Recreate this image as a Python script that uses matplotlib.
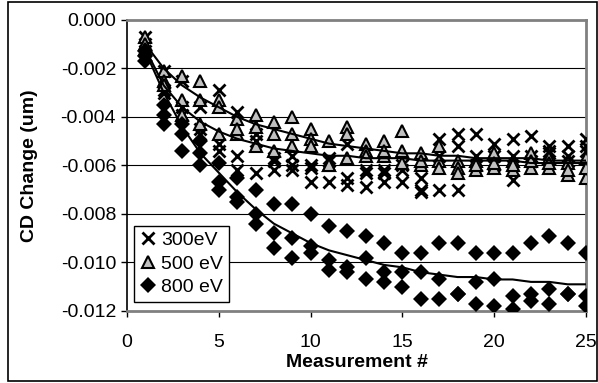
import matplotlib.pyplot as plt
from matplotlib.patches import Rectangle

plt.rcParams['font.family'] = ['Liberation Sans', 'DejaVu Sans']

meas = list(range(1, 26))

# 300 eV, three runs
ev300_a = [-0.0007, -0.0021, -0.0025, -0.0036, -0.0029, -0.0038, -0.0047, -0.0057, -0.0056, -0.0060,
           -0.0057, -0.0051, -0.0062, -0.0062, -0.0062, -0.0065, -0.0049, -0.0047, -0.0047, -0.0051,
           -0.0049, -0.0048, -0.0052, -0.0052, -0.0049]
ev300_b = [-0.0010, -0.0029, -0.0036, -0.0045, -0.0051, -0.0062, -0.0063, -0.0062, -0.0062, -0.0067,
           -0.0067, -0.0065, -0.0069, -0.0067, -0.0067, -0.0070, -0.0056, -0.0052, -0.0056, -0.0056,
           -0.0056, -0.0056, -0.0055, -0.0056, -0.0052]
ev300_c = [-0.0013, -0.0030, -0.0039, -0.0047, -0.0054, -0.0056, -0.0050, -0.0058, -0.0060, -0.0061,
           -0.0058, -0.0068, -0.0063, -0.0063, -0.0060, -0.0071, -0.0070, -0.0070, -0.0060, -0.0060,
           -0.0066, -0.0058, -0.0054, -0.0058, -0.0054]

# 500 eV, three runs
ev500_a = [-0.0007, -0.0021, -0.0023, -0.0025, -0.0033, -0.0041, -0.0039, -0.0042, -0.0040, -0.0045,
           -0.0050, -0.0044, -0.0051, -0.0050, -0.0046, -0.0055, -0.0052, -0.0058, -0.0058, -0.0055,
           -0.0058, -0.0055, -0.0057, -0.0059, -0.0057]
ev500_b = [-0.0010, -0.0025, -0.0033, -0.0033, -0.0036, -0.0047, -0.0044, -0.0047, -0.0047, -0.0049,
           -0.0060, -0.0047, -0.0054, -0.0056, -0.0054, -0.0060, -0.0058, -0.0061, -0.0062, -0.0061,
           -0.0062, -0.0061, -0.0061, -0.0064, -0.0065]
ev500_c = [-0.0012, -0.0027, -0.0039, -0.0043, -0.0047, -0.0045, -0.0052, -0.0054, -0.0052, -0.0052,
           -0.0060, -0.0057, -0.0056, -0.0054, -0.0059, -0.0058, -0.0061, -0.0063, -0.0060, -0.0059,
           -0.0060, -0.0058, -0.0059, -0.0062, -0.0061]

# 800 eV, three runs
ev800_a = [-0.0013, -0.0035, -0.0043, -0.0050, -0.0059, -0.0065, -0.0070, -0.0076, -0.0076, -0.0080,
           -0.0085, -0.0087, -0.0089, -0.0092, -0.0096, -0.0096, -0.0092, -0.0092, -0.0096, -0.0096,
           -0.0096, -0.0092, -0.0089, -0.0092, -0.0096]
ev800_b = [-0.0015, -0.0039, -0.0047, -0.0055, -0.0067, -0.0073, -0.0080, -0.0088, -0.0090, -0.0093,
           -0.0099, -0.0102, -0.0098, -0.0104, -0.0104, -0.0104, -0.0107, -0.0113, -0.0108, -0.0107,
           -0.0114, -0.0113, -0.0111, -0.0113, -0.0114]
ev800_c = [-0.0017, -0.0043, -0.0054, -0.0060, -0.0070, -0.0075, -0.0084, -0.0094, -0.0098, -0.0096,
           -0.0103, -0.0104, -0.0107, -0.0108, -0.0110, -0.0115, -0.0115, -0.0113, -0.0117, -0.0118,
           -0.0119, -0.0116, -0.0117, -0.0113, -0.0118]

# fitted curves
fit300 = [-0.0012, -0.0027, -0.0036, -0.0042, -0.0046, -0.0049, -0.0051, -0.0053, -0.0054, -0.0055,
          -0.0056, -0.0056, -0.0057, -0.0057, -0.0057, -0.0058, -0.0058, -0.0058, -0.0058, -0.0058,
          -0.0058, -0.0059, -0.0059, -0.0059, -0.0059]
fit500 = [-0.0010, -0.0020, -0.0027, -0.0032, -0.0036, -0.0040, -0.0043, -0.0045, -0.0047, -0.0049,
          -0.0051, -0.0052, -0.0053, -0.0054, -0.0055, -0.0055, -0.0056, -0.0056, -0.0057, -0.0057,
          -0.0057, -0.0057, -0.0058, -0.0058, -0.0058]
fit800 = [-0.0013, -0.0030, -0.0044, -0.0055, -0.0063, -0.0071, -0.0078, -0.0084, -0.0088, -0.0092,
          -0.0095, -0.0097, -0.0099, -0.0101, -0.0102, -0.0104, -0.0105, -0.0106, -0.0106, -0.0107,
          -0.0107, -0.0108, -0.0108, -0.0109, -0.0109]

yticks = [0.0, -0.002, -0.004, -0.006, -0.008, -0.010, -0.012]
xticks = [0, 5, 10, 15, 20, 25]

fig = plt.figure(figsize=(5.98, 3.83), dpi=100)
ax = fig.add_axes([0.2124, 0.188, 0.7676, 0.760])

# outer chart border
fig.patches.append(Rectangle((0.013, 0.004), 0.985, 0.99, transform=fig.transFigure,
                             fill=False, edgecolor='black', linewidth=1.2))

for i, s in enumerate([ev300_a, ev300_b, ev300_c]):
    ax.plot(meas, s, linestyle='none', marker='x', ms=8.5, mew=2, color='black',
            label='300eV' if i == 0 else None, zorder=3)
for i, s in enumerate([ev500_a, ev500_b, ev500_c]):
    ax.plot(meas, s, linestyle='none', marker='^', ms=9, mew=1.5, mfc='#c0c0c0', mec='black',
            label='500 eV' if i == 0 else None, zorder=4)
for i, s in enumerate([ev800_a, ev800_b, ev800_c]):
    ax.plot(meas, s, linestyle='none', marker='D', ms=8.3, mew=0, color='black',
            label='800 eV' if i == 0 else None, zorder=5)

for f in [fit300, fit500, fit800]:
    ax.plot(meas, f, color='black', linewidth=1.5, zorder=6)

ax.set_xlim(0, 25)
ax.set_ylim(-0.012, 0.0)
ax.set_xticks(xticks)
ax.set_yticks(yticks)
ax.set_yticklabels([f"{v:.3f}" for v in yticks])
ax.tick_params(axis='both', direction='out', length=4.3, width=1, labelsize=14)
ax.tick_params(axis='y', pad=3.6)
ax.tick_params(axis='x', pad=12)

for v in yticks[1:-1]:
    ax.axhline(v, color='black', linewidth=0.8, zorder=1)

ax.spines['left'].set_color('black')
ax.spines['left'].set_linewidth(1.2)
ax.spines['bottom'].set_color('#808080')
ax.spines['bottom'].set_linewidth(2)
ax.spines['top'].set_color('#808080')
ax.spines['top'].set_linewidth(2)
ax.spines['right'].set_color('#808080')
ax.spines['right'].set_linewidth(2)

ax.set_ylabel('CD Change (um)', fontsize=14, fontweight='bold')
ax.yaxis.set_label_coords(-0.195, 0.5)
ax.set_xlabel('Measurement #', fontsize=14, fontweight='bold')
ax.xaxis.set_label_coords(0.5, -0.148)

leg = ax.legend(loc='lower left', bbox_to_anchor=(0.015, 0.031), borderaxespad=0,
                fontsize=14, handlelength=0.8, handletextpad=0.3, labelspacing=0.3,
                borderpad=0.3, fancybox=False, framealpha=1, edgecolor='black')
leg.get_frame().set_linewidth(1)

fig.savefig('out.png', dpi=100)
